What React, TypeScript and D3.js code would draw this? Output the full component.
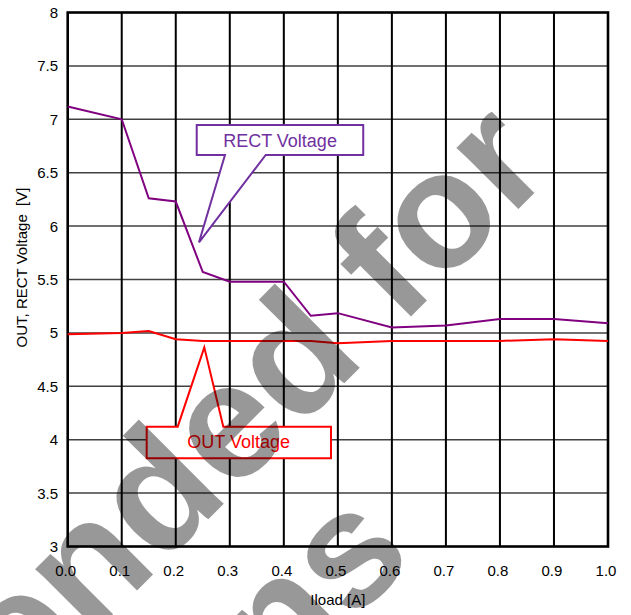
import React from "react";
import * as d3 from "d3";

const loadA = [0, 0.1, 0.15, 0.2, 0.25, 0.3, 0.4, 0.45, 0.5, 0.6, 0.7, 0.8, 0.9, 1.0];
const rectV = [7.12, 7.0, 6.26, 6.23, 5.57, 5.48, 5.48, 5.16, 5.185, 5.05, 5.07, 5.13, 5.13, 5.09];
const outV = [4.987, 5.0, 5.018, 4.94, 4.925, 4.925, 4.925, 4.925, 4.903, 4.925, 4.925, 4.925, 4.94, 4.925];
const xTicks = [0, 0.1, 0.2, 0.3, 0.4, 0.5, 0.6, 0.7, 0.8, 0.9, 1.0];
const yTicks = [3, 3.5, 4, 4.5, 5, 5.5, 6, 6.5, 7, 7.5, 8];

const W = 631, H = 615;
const L = 67.7, R = 608, T = 12.5, B = 546.5;
const FONT = "'Liberation Sans', Arial, sans-serif";

export default function App() {
  const x = d3.scaleLinear().domain([0, 1]).range([L, R]);
  const y = d3.scaleLinear().domain([3, 8]).range([B, T]);
  const rectPts: [number, number][] = loadA.map((a, i) => [a, rectV[i]]);
  const outPts: [number, number][] = loadA.map((a, i) => [a, outV[i]]);
  const line = d3.line<[number, number]>().x(d => x(d[0])).y(d => y(d[1]));

  // callouts in data units
  const rc = { x0: 0.2388, x1: 0.547, y0: 6.947, y1: 6.666, b0: 0.2911, b1: 0.3665, tx: 0.243, ty: 5.848 };
  const oc = { x0: 0.1462, x1: 0.4873, y0: 4.122, y1: 3.826, b0: 0.2036, b1: 0.288, tx: 0.2528, ty: 4.865 };
  const rectCallout = `M${x(rc.x0)},${y(rc.y0)} H${x(rc.x1)} V${y(rc.y1)} H${x(rc.b1)} L${x(rc.tx)},${y(rc.ty)} L${x(rc.b0)},${y(rc.y1)} H${x(rc.x0)} Z`;
  const outCallout = `M${x(oc.x0)},${y(oc.y0)} H${x(oc.b0)} L${x(oc.tx)},${y(oc.ty)} L${x(oc.b1)},${y(oc.y0)} H${x(oc.x1)} V${y(oc.y1)} H${x(oc.x0)} Z`;

  return (
    <svg width={W} height={H} style={{ position: "absolute", left: 0, top: 0, background: "#fff" }} fontFamily={FONT}>
      <rect x={0} y={0} width={W} height={H} fill="#fff" />
      {yTicks.slice(1, -1).map(t => (
        <line key={"h" + t} x1={L} x2={R} y1={y(t)} y2={y(t)} stroke="#404040" strokeWidth={1.5} />
      ))}
      {xTicks.slice(1, -1).map(t => (
        <line key={"v" + t} x1={x(t)} x2={x(t)} y1={T} y2={B} stroke="#000" strokeWidth={2} />
      ))}
      <rect x={L} y={T} width={R - L} height={B - T} fill="none" stroke="#000" strokeWidth={2.6} />
      <path d={line(rectPts) || ""} fill="none" stroke="#800080" strokeWidth={2} />
      <path d={line(outPts) || ""} fill="none" stroke="#ff0000" strokeWidth={2} />

      <path d={rectCallout} fill="#fff" stroke="#7030a0" strokeWidth={2} />
      <text x={x(0.393)} y={y(6.74)} textAnchor="middle" fontSize={18} fill="#7030a0">RECT Voltage</text>
      <path d={outCallout} fill="#fff" stroke="#ff0000" strokeWidth={2} />
      <text x={x(0.3165)} y={y(3.922)} textAnchor="middle" fontSize={18} fill="#ff0000">OUT Voltage</text>

      {yTicks.map(t => (
        <text key={"yl" + t} x={58} y={y(t) + 5.5} textAnchor="end" fontSize={15} fill="#000">{String(t)}</text>
      ))}
      {xTicks.map(t => (
        <text key={"xl" + t} x={x(t) - 2} y={576} textAnchor="middle" fontSize={15} fill="#000">{t.toFixed(1)}</text>
      ))}
      <text x={(L + R) / 2} y={605} textAnchor="middle" fontSize={15} fill="#000">Iload [A]</text>
      <text transform={`translate(27,${(T + B) / 2 - 12}) rotate(-90)`} textAnchor="middle" fontSize={15} fill="#000" style={{ whiteSpace: "pre" }}>OUT, RECT Voltage  [V]</text>

      <g transform="translate(-70,797.5) rotate(-45)" opacity={0.4} fill="#000" fontWeight="bold" fontSize={165} fontFamily={FONT}>
        <text x={0} y={0} textAnchor="middle">Not Recommended for</text>
        <text x={0} y={175} textAnchor="middle">New Designs</text>
      </g>
    </svg>
  );
}
